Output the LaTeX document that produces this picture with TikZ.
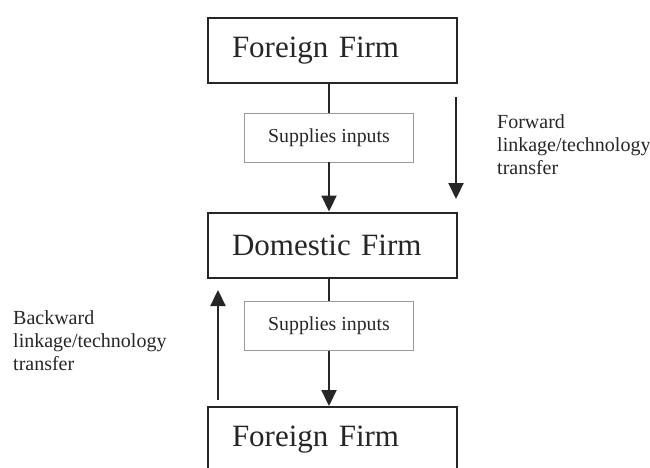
\documentclass[tikz,border=0pt]{standalone}
\usepackage{fontspec}
\setmainfont{Liberation Serif}
\usetikzlibrary{arrows.meta}
\definecolor{ink}{HTML}{262626}
\definecolor{thin}{HTML}{9A9A9A}
\tikzset{
  firm/.style={draw=ink, line width=2pt, minimum height=65pt, text width=201pt,
    inner xsep=24pt, inner ysep=0pt, align=left, text=ink,
    font=\fontsize{31}{36}\selectfont},
  supply/.style={draw=thin, line width=0.9pt, minimum width=169pt, minimum height=49pt,
    inner sep=0pt, text=ink, font=\fontsize{19.8}{23}\selectfont},
  link/.style={draw=ink, line width=2.2pt},
  arr/.style={link, -{Triangle[width=15pt,length=16pt]}},
  note/.style={anchor=north west, inner sep=0pt, align=left, text=ink,
    font=\fontsize{20}{23}\selectfont}
}
\begin{document}
\begin{tikzpicture}[x=1pt,y=-1pt]
\clip (0,0) rectangle (650,468);
\node[firm] (top) at (332.5,50.5) {Foreign Firm};
\node[supply] (s1) at (329,137.5) {Supplies inputs};
\node[firm] (dom) at (332.5,245) {Domestic Firm};
\node[supply] (s2) at (329,326) {Supplies inputs};
\node[firm] (bot) at (332.5,439.5) {Foreign Firm};

\draw[link] (s1.north) -- (s1.north |- top.south);
\draw[arr] (s1.south) -- (s1.south |- dom.north);
\draw[link] (s2.north) -- (s2.north |- dom.south);
\draw[arr] (s2.south) -- (s2.south |- bot.north);

\coordinate (f1) at (456,97);
\coordinate (f2) at (456,199);
\draw[arr] (f1) -- (f2);
\coordinate (b1) at (218,400);
\coordinate (b2) at (218,290);
\draw[arr] (b1) -- (b2);

\node[note] (fwd) at (497,114) {Forward\\linkage/technology\\transfer};
\node[note] (bwd) at (13,310) {Backward\\linkage/technology\\transfer};
\end{tikzpicture}
\end{document}
